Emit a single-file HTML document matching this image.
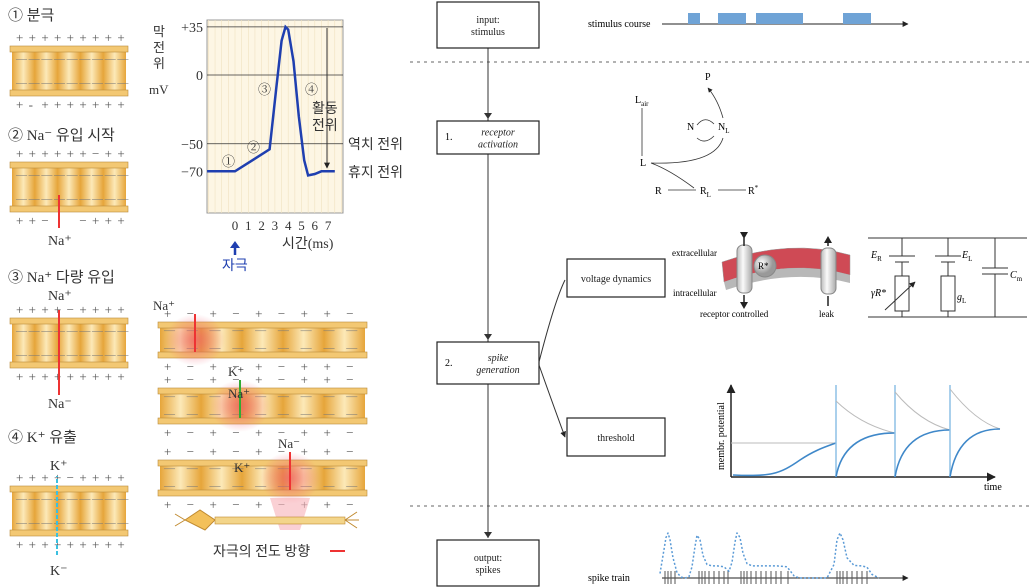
<!DOCTYPE html>
<html><head><meta charset="utf-8">
<style>
body{margin:0;background:#fff;width:1030px;height:588px;overflow:hidden;font-family:"Liberation Serif","Noto Serif CJK SC",serif}
svg{position:absolute;left:0;top:0}
.k{font-family:"Liberation Serif","Noto Sans CJK KR",serif}
</style></head><body>
<svg id="s" width="1030" height="588" viewBox="0 0 1030 588">
<defs>
<linearGradient id="mem" x1="0" x2="1" y1="0" y2="0">
<stop offset="0" stop-color="#e6a53a"/><stop offset=".1" stop-color="#fce9b8"/><stop offset=".2" stop-color="#e6a53a"/><stop offset=".3" stop-color="#fce9b8"/><stop offset=".4" stop-color="#e6a53a"/><stop offset=".5" stop-color="#fce9b8"/><stop offset=".6" stop-color="#e6a53a"/><stop offset=".7" stop-color="#fce9b8"/><stop offset=".8" stop-color="#e6a53a"/><stop offset=".9" stop-color="#fce9b8"/><stop offset="1" stop-color="#e6a53a"/>
</linearGradient>
<radialGradient id="glow"><stop offset="0" stop-color="#f05a6a" stop-opacity=".7"/><stop offset="1" stop-color="#f05a6a" stop-opacity="0"/></radialGradient>
<radialGradient id="ball" cx=".35" cy=".35"><stop offset="0" stop-color="#fff"/><stop offset="1" stop-color="#999"/></radialGradient>
<linearGradient id="cyl" x1="0" x2="1"><stop offset="0" stop-color="#bbb"/><stop offset=".4" stop-color="#fafafa"/><stop offset="1" stop-color="#aaa"/></linearGradient>
<marker id="ar" viewBox="0 0 10 10" refX="9" refY="5" markerWidth="6" markerHeight="6" orient="auto"><path d="M0,0L10,5L0,10z" fill="#222"/></marker>
</defs>
<g id="left"></g>
<g id="chart"></g>
<g id="right"></g>
</svg>
<script>
// ---- action potential chart data ----
const apTime=[-2.1,0,2.6,3.1,3.5,3.8,4.0,4.4,4.8,5.2,5.5,6.0,6.5,7.5];
const apVolt=[-70,-70,-54,-10,25,35,33,10,-30,-62,-73,-72,-70,-70];
const yTicks=[35,0,-50,-70];
const yTickLabels=["+35","0","−50","−70"];
const xTicks=[0,1,2,3,4,5,6,7];
// ---- stimulus & spikes data ----
const stimStart=[688,718,756,843];
const stimEnd=[700,746,803,871];
const spikeTimes=[0.6,1.2,1.8,2.6,7.4,8,8.6,9.4,10.4,11.4,12.4,13.2,15.8,16.4,17,17.8,18.8,19.8,20.8,21.8,22.8,23.8,25.2,35,35.6,36.2,37,38,39,40,41];
const rateTime=[-0.4,0.2,0.8,1.2,1.6,2.2,3,3.8,4.6,5.4,6,6.6,7,7.6,8.2,9,10,11,12.4,13.4,14,14.6,15,15.6,16.2,17,18,20,23,25,26.4,27.4,33,34.4,35,35.6,36.2,37,38.4,40,41,42,43.4];
const rateVal=[0.1,0.5,0.9,1,0.85,0.45,0.12,0.02,0,0.03,0.25,0.7,0.95,0.85,0.5,0.3,0.27,0.27,0.25,0.15,0.35,0.8,1,0.9,0.55,0.32,0.27,0.27,0.27,0.25,0.05,0,0,0.3,0.85,1,0.85,0.45,0.28,0.27,0.24,0.08,0];

const NS="http://www.w3.org/2000/svg";
function el(p,t,a,txt){const e=document.createElementNS(NS,t);for(const k in a)e.setAttribute(k,a[k]);if(txt!==undefined)e.textContent=txt;p.appendChild(e);return e;}
const L=document.getElementById('left'),C=document.getElementById('chart'),R=document.getElementById('right');

// ---- Left illustration ----
function membrane(x,y,w,h,top,bot,name){
  const g=el(L,'g',{});
  
  
  el(g,'rect',{x:x,y:y,width:w,height:h,fill:'url(#mem)'});
  el(g,'rect',{x:x-2,y:y,width:w+4,height:6,fill:'#f3c873',stroke:'#b98a3a','stroke-width':.6});
  el(g,'rect',{x:x-2,y:y+h-6,width:w+4,height:6,fill:'#f3c873',stroke:'#b98a3a','stroke-width':.6});
  for(let i=0;i<9;i++){
    el(g,'text',{x:x+4+i*(w/9),y:y-4,'font-size':13,fill:'#555'},top[i]);
    el(g,'text',{x:x+4+i*(w/9),y:y+h+13,'font-size':13,fill:'#555'},bot[i]);
    el(g,'text',{x:x+4+i*(w/9),y:y+h*0.32,'font-size':11,fill:'#777'},'—');
    el(g,'text',{x:x+4+i*(w/9),y:y+h*0.8,'font-size':11,fill:'#777'},'—');
  }
  return g;
}
function lbl(x,y,t,s,c,n){const e=el(L,'text',{x:x,y:y,'font-size':s||15,fill:c||'#333',class:'k'},t);return e;}
lbl(8,20,'① 분극',15,'#333','step1-label');
membrane(12,46,114,50,'+++++++++'.split(''),'+-+++++++'.split(''),'membrane-polarized');
lbl(8,140,'② Na⁻ 유입 시작',15,'#333','step2-label');
membrane(12,162,114,50,'++++++−++'.split(''),'++−  −+++'.split(''),'membrane-na-start');
el(L,'line',{x1:59,y1:228,x2:59,y2:195,stroke:'#e33','stroke-width':2});
lbl(48,245,'Na⁺',14,'#333','na-plus-label');
lbl(8,282,'③ Na⁺ 다량 유입',15,'#333','step3-label');
lbl(48,300,'Na⁺',14,'#333','na-plus-label-3');
membrane(12,318,114,50,'++++−++++'.split(''),'+++++++++'.split(''),'membrane-na-influx');
el(L,'line',{x1:59,y1:395,x2:59,y2:310,stroke:'#e33','stroke-width':2});
lbl(48,408,'Na⁻',14,'#333','na-minus-label');
lbl(8,442,'④ K⁺ 유출',15,'#333','step4-label');
lbl(50,470,'K⁺',14,'#333','k-plus-label');
membrane(12,486,114,50,'++++−++++'.split(''),'+++++++++'.split(''),'membrane-k-efflux');
el(L,'line',{x1:57,y1:555,x2:57,y2:476,stroke:'#3bc0e0','stroke-width':2,'stroke-dasharray':'4 2'});
lbl(50,575,'K⁻',14,'#333','k-minus-label');
[[322,'Na⁺',195,'#e33'],[388,'K⁺',240,'#3a3'],[460,'Na⁻',290,'#e33']].forEach((m,i)=>{
  membrane(160,m[0],205,36,'+−+−+−++−'.split(''),'+−+−+−++−'.split(''),'propagation-membrane-'+(i+1));
  el(L,'ellipse',{cx:m[2],cy:m[0]+18,rx:30,ry:26,fill:'url(#glow)'});
  el(L,'line',{x1:m[2],y1:m[0]+30,x2:m[2],y2:m[0]-8,stroke:m[3],'stroke-width':2});
  lbl(m[2]-12-(i==0?30:0),m[0]-12,m[1],13,'#333','ion-label-'+(i+1));
});
lbl(228,398,'Na⁺',13,'#333','na-label-2');
lbl(234,472,'K⁺',13,'#333','k-label-3');
el(L,'polygon',{points:'270,498 310,498 300,530 280,530',fill:'#f6b0b8',opacity:.6});
el(L,'path',{d:'M185,520 L200,510 L215,520 L205,530z',fill:'#f3c05a',stroke:'#c08a30'});
el(L,'rect',{x:215,y:517,width:130,height:7,fill:'#f3d58a',stroke:'#c08a30','stroke-width':.6});
el(L,'path',{d:'M345,520 l12,-8 M345,520 l14,0 M345,520 l12,8 M185,520 l-10,-6 M185,520 l-10,6',stroke:'#c08a30'});
lbl(213,556,'자극의 전도 방향',14,'#333','conduction-direction-label');
el(L,'line',{x1:330,y1:551,x2:345,y2:551,stroke:'#e33','stroke-width':2});

// ---- Action potential chart ----
const px0=207,px1=343,py0=20,py1=213;
const xs=t=>235+t*13.3, ys=v=>75-v*1.375;
const bg=el(C,'rect',{x:px0,y:py0,width:px1-px0,height:py1-py0,fill:'#fdf6e4',stroke:'#999'});

for(let t=-2;t<=8;t+=0.5)el(C,'line',{x1:xs(t),y1:py0,x2:xs(t),y2:py1,stroke:'#f0e2c0','stroke-width':.6});
yTicks.forEach((v,i)=>{
  if(v!==-70)el(C,'line',{x1:px0,y1:ys(v),x2:px1,y2:ys(v),stroke:'#333','stroke-width':.8});
  const t=el(C,'text',{x:px0-4,y:ys(v)+5,'text-anchor':'end','font-size':14,fill:'#333'},yTickLabels[i]);
  
  
});
xTicks.forEach(v=>{const t=el(C,'text',{x:xs(v),y:230,'text-anchor':'middle','font-size':13,fill:'#333'},String(v));
  
  });
const yt=el(C,'text',{x:192,y:35,'font-size':13,fill:'#333',class:'k'},'');


['막','전','위'].forEach((c,i)=>el(yt,'tspan',{x:153,y:36+i*16},c));
el(yt,'tspan',{x:149,y:94},'mV');
const xt=el(C,'text',{x:282,y:248,'font-size':14,fill:'#333',class:'k'},'시간(ms)');


let d='';apTime.forEach((t,i)=>d+=(i?'L':'M')+xs(t).toFixed(1)+','+ys(apVolt[i]).toFixed(1));
const line=el(C,'path',{d:d,fill:'none',stroke:'#1f3fb0','stroke-width':2.5});


el(C,'line',{x1:327,y1:28,x2:327,y2:168,stroke:'#333','marker-end':'url(#ar)'});
[['①',222,166],['②',247,152],['③',258,94],['④',305,94]].forEach(a=>{const t=el(C,'text',{x:a[1],y:a[2],'font-size':13,fill:'#333'},a[0]);});
[['활동',312,113],['전위',312,130],['역치 전위',348,149],['휴지 전위',348,177]].forEach(a=>{const t=el(C,'text',{x:a[1],y:a[2],'font-size':14,fill:'#333',class:'k'},a[0]);});
el(C,'line',{x1:235,y1:255,x2:235,y2:247,stroke:'#1f3fb0','stroke-width':2.5});
el(C,'polygon',{points:'230,248 240,248 235,241',fill:'#1f3fb0'});
const st=el(C,'text',{x:222,y:270,'font-size':14,fill:'#1f3fb0',class:'k'},'자극');


// ---- Right flowchart ----
[[62],[506]].forEach(a=>{const l=el(R,'line',{x1:410,y1:a[0],x2:1030,y2:a[0],stroke:'#999','stroke-dasharray':'3 4','stroke-width':1.5});});
el(R,'line',{x1:488,y1:48,x2:488,y2:538,stroke:'#333'});
[119,340,538].forEach(y=>el(R,'path',{d:`M484,${y-6}L488,${y}L492,${y-6}`,fill:'#333'}));
function box(x,y,w,h,lines,name,ital){
  const g=el(R,'g',{});
  
  
  el(g,'rect',{x:x,y:y,width:w,height:h,fill:'#fff',stroke:'#222','stroke-width':1.2});
  lines.forEach((t,i)=>el(g,'text',{x:x+w/2+(ital?10:0),y:y+h/2+4+(i-(lines.length-1)/2)*12,'text-anchor':'middle','font-size':10,fill:'#222','font-style':ital&&i<2?'italic':'normal'},t));
}
box(437,2,102,46,['input:','stimulus'],'input-box');
box(437,121,102,33,['receptor','activation'],'receptor-activation-box',true);
el(R,'text',{x:445,y:140,'font-size':10},'1.');
box(437,342,102,42,['spike','generation'],'spike-generation-box',true);
el(R,'text',{x:445,y:366,'font-size':10},'2.');
box(437,540,102,46,['output:','spikes'],'output-box');
box(567,259,98,38,['voltage dynamics'],'voltage-dynamics-box');
box(567,418,98,38,['threshold'],'threshold-box');
el(R,'path',{d:'M539,362 Q555,300 565,280 M539,365 Q555,410 565,437',fill:'none',stroke:'#333','marker-end':'url(#ar)'});
// stimulus course
el(R,'text',{x:588,y:27,'font-size':10},'stimulus course');
el(R,'line',{x1:662,y1:24,x2:908,y2:24,stroke:'#222','marker-end':'url(#ar)'});
stimStart.forEach((s,i)=>{const r=el(R,'rect',{x:s,y:13,width:stimEnd[i]-s,height:11,fill:'#6fa3d6'});
  
  });
// receptor scheme
[['L',635,103,'air'],['P',705,80],['N',687,130],['N',718,130,'L'],['L',640,166],['R',655,194],['R',700,194,'L'],['R',748,194,'*']].forEach(a=>{const t=el(R,'text',{x:a[1],y:a[2],'font-size':10},a[0]);if(a[3])el(t,'tspan',{'font-size':7,dy:a[3]=='*'?-4:3},a[3]);});
el(R,'path',{d:'M642,108V156 M651,163Q715,165 723,138 M651,163Q670,170 694,188 M668,190H696 M718,190H746 M697,125Q705,115 714,124 M714,136Q705,145 697,138 M723,118Q718,100 708,88',fill:'none',stroke:'#333','stroke-width':.8,'marker-end':'url(#ar)'});
// membrane illustration
el(R,'path',{d:'M722,262Q790,238 850,255L850,275Q790,258 724,282z',fill:'#cf4a55',stroke:'#999','stroke-width':.5});
el(R,'path',{d:'M724,282Q790,258 850,275L850,283Q790,268 726,290z',fill:'#b8b8b8'});
el(R,'rect',{x:737,y:245,width:15,height:48,rx:6,fill:'url(#cyl)',stroke:'#888'});
el(R,'circle',{cx:765,cy:266,r:11,fill:'url(#ball)',stroke:'#888'});
el(R,'rect',{x:821,y:248,width:15,height:46,rx:6,fill:'url(#cyl)',stroke:'#888'});
el(R,'path',{d:'M744,238V246 M744,295V304 M828,246V238 M828,296V306',stroke:'#222','stroke-width':1.5});
el(R,'path',{d:'M740,232l4,7l4,-7 M740,302l4,7l4,-7 M824,243l4,-7l4,7',fill:'#222'});
[['extracellular',672,256],['intracellular',673,296],['receptor controlled',700,317],['leak',819,317],['R*',758,269]].forEach(a=>{const t=el(R,'text',{x:a[1],y:a[2],'font-size':9},a[0]);});
// circuit
el(R,'path',{d:'M868,238H1027 M868,317H1027 M902,238V256 M902,262V276 M902,311V317 M948,238V256 M948,262V276 M948,311V317 M995,238V268 M995,274V317 M889,256H915 M895,262H909 M935,256H961 M941,262H955 M982,268H1008 M982,274H1008',stroke:'#333',fill:'none'});
el(R,'rect',{x:895,y:276,width:14,height:35,fill:'#fff',stroke:'#333'});
el(R,'rect',{x:941,y:276,width:14,height:35,fill:'#fff',stroke:'#333'});
el(R,'line',{x1:885,y1:310,x2:915,y2:282,stroke:'#333','marker-end':'url(#ar)'});
[['E',871,258,'R'],['E',962,258,'L'],['γR*',871,296],['g',957,300,'L'],['C',1010,278,'m']].forEach(a=>{const t=el(R,'text',{x:a[1],y:a[2],'font-size':10,'font-style':'italic'},a[0]);if(a[3])el(t,'tspan',{'font-size':7,dy:3,'font-style':'normal'},a[3]);});
// threshold chart
const ox=731,oy=477;
el(R,'line',{x1:ox,y1:oy,x2:995,y2:oy,stroke:'#222','stroke-width':1.5,'marker-end':'url(#ar)'});
el(R,'line',{x1:ox,y1:oy,x2:ox,y2:385,stroke:'#222','stroke-width':1.5,'marker-end':'url(#ar)'});
const yl=el(R,'text',{x:0,y:0,'font-size':10,transform:`translate(724,470) rotate(-90)`},'membr. potential');

const tl=el(R,'text',{x:984,y:490,'font-size':10},'time');

el(R,'line',{x1:ox,y1:443,x2:836,y2:443,stroke:'#bbb'});
el(R,'path',{d:'M733,475C770,477 780,474 800,460C815,450 825,447 836,443',fill:'none',stroke:'#3f88c9','stroke-width':1.6});
[[836,895,401,433],[895,950,392,430],[950,1000,389,429]].forEach(s=>{
  el(R,'line',{x1:s[0],y1:385,x2:s[0],y2:oy,stroke:'#8ec0e6','stroke-width':1.5});
  el(R,'path',{d:`M${s[0]},${s[2]}Q${s[0]+25},${s[3]-8} ${s[1]},${s[3]}`,fill:'none',stroke:'#bbb'});
  el(R,'path',{d:`M${s[0]},${oy}Q${s[0]+8},${s[3]} ${s[1]},${s[3]}`,fill:'none',stroke:'#3f88c9','stroke-width':1.6});
});
// spike train
el(R,'text',{x:588,y:581,'font-size':10},'spike train');
el(R,'line',{x1:662,y1:578,x2:908,y2:578,stroke:'#222','marker-end':'url(#ar)'});
const sx=t=>662+t*5, ry=r=>578-r*45;
spikeTimes.forEach(t=>{const s=el(R,'line',{x1:sx(t),y1:571,x2:sx(t),y2:584,stroke:'#555'});
  
  });
let rd='';rateTime.forEach((t,i)=>rd+=(i?'L':'M')+sx(t).toFixed(1)+','+ry(rateVal[i]).toFixed(1));
const rp=el(R,'path',{d:rd,fill:'none',stroke:'#5a9ad6','stroke-width':1.5,'stroke-dasharray':'2 2','stroke-linejoin':'round'});


</script>
</body></html>
